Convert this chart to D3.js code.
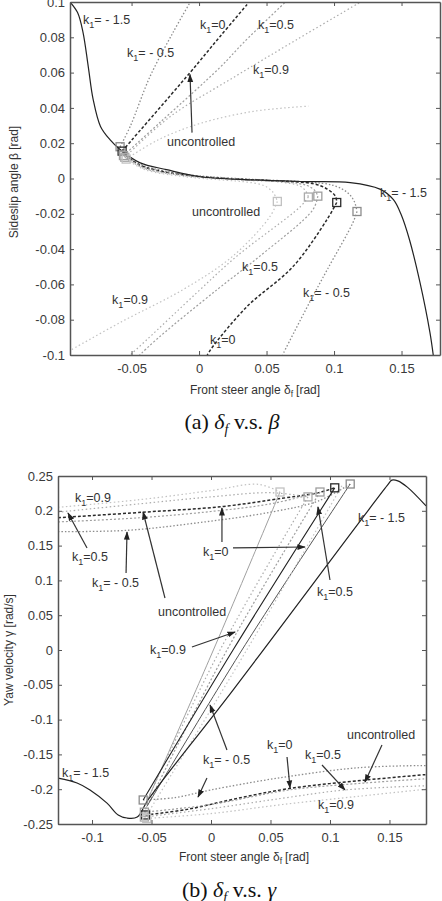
<!DOCTYPE html>
<html>
<head>
<meta charset="utf-8">
<script src="https://cdn.jsdelivr.net/npm/d3@7"></script>
<style>
  body { margin: 0; background: #fff; }
  svg { display: block; font-family: "Liberation Sans", Arial, sans-serif; }
</style>
</head>
<body>
<svg id="chart" width="442" height="901"></svg>
<script>
// ---------- data: plot (a) delta_f vs beta ----------
var seriesNames = ['k=-0.5', 'uncontrolled', 'k=0', 'k=0.5', 'k=0.9'];

var aXTicks = [-0.05, 0, 0.05, 0.1, 0.15];
var aYTicks = [-0.1, -0.08, -0.06, -0.04, -0.02, 0, 0.02, 0.04, 0.06, 0.08, 0.1];

var aK15 = [[-0.0956, 0.1], [-0.090, 0.094], [-0.086, 0.083], [-0.082, 0.063], [-0.0785, 0.045],
  [-0.073, 0.0295], [-0.066, 0.022], [-0.0585, 0.0164], [-0.044, 0.009], [-0.024, 0.005],
  [0.001, 0.001], [0.04, -0.0008], [0.075, -0.0017], [0.112, -0.0023], [0.134, -0.006],
  [0.144, -0.012], [0.150, -0.021], [0.156, -0.035], [0.1637, -0.059], [0.171, -0.087], [0.1735, -0.1]];

// branch from left square up to the border
var aUp = [
  [[-0.0585, 0.018], [-0.051, 0.0295], [-0.0363, 0.0578], [-0.0193, 0.0827], [-0.0067, 0.0997]],
  [[-0.057, 0.0155], [-0.0067, 0.060], [0.0156, 0.0805], [0.0356, 0.0986]],
  [[-0.056, 0.013], [-0.029, 0.0317], [0.0156, 0.063], [0.033, 0.077], [0.064, 0.1]],
  [[-0.055, 0.012], [-0.0215, 0.035], [0.025, 0.057], [0.0726, 0.0788], [0.119, 0.0997]],
  [[-0.054, 0.011], [-0.03, 0.022], [0.0, 0.031], [0.04, 0.038], [0.081, 0.041]]
];
// slow part from left square to right square
var aMid = [
  [[-0.0585, 0.018], [-0.05, 0.011], [-0.04, 0.007], [-0.02, 0.0035], [0.0, 0.0015], [0.04, -0.0005],
   [0.08, -0.002], [0.1, -0.004], [0.11, -0.008], [0.115, -0.013], [0.117, -0.0187]],
  [[-0.057, 0.0155], [-0.045, 0.008], [-0.02, 0.003], [0.02, 0.0], [0.06, -0.0015], [0.085, -0.003],
   [0.095, -0.006], [0.101, -0.010], [0.102, -0.0136]],
  [[-0.056, 0.013], [-0.04, 0.006], [-0.01, 0.002], [0.03, -0.0005], [0.065, -0.002], [0.08, -0.004],
   [0.086, -0.007], [0.088, -0.010]],
  [[-0.055, 0.012], [-0.04, 0.0055], [-0.01, 0.0015], [0.03, -0.0008], [0.06, -0.002], [0.074, -0.004],
   [0.079, -0.007], [0.081, -0.0105]],
  [[-0.054, 0.011], [-0.04, 0.005], [-0.01, 0.001], [0.02, -0.001], [0.035, -0.002], [0.048, -0.004],
   [0.055, -0.008], [0.058, -0.013]]
];
// branch from right square down to the border
var aDown = [
  [[0.117, -0.0187], [0.114, -0.025], [0.095, -0.0516], [0.082, -0.070], [0.062, -0.0997]],
  [[0.102, -0.0136], [0.095, -0.023], [0.0696, -0.0499], [0.0356, -0.0725], [0.0104, -0.095], [0.006, -0.1]],
  [[0.088, -0.010], [0.0844, -0.0176], [0.045, -0.044], [0.0133, -0.063], [-0.029, -0.0895], [-0.044, -0.1]],
  [[0.081, -0.0105], [0.075, -0.016], [0.028, -0.044], [-0.0015, -0.0646], [-0.0385, -0.0912], [-0.051, -0.1]],
  [[0.058, -0.013], [0.0526, -0.0215], [0.025, -0.044], [-0.012, -0.063], [-0.0585, -0.0816], [-0.0956, -0.0975]]
];

var aLabels = [
  ['k1= - 1.5', -0.0859, 0.0901], ['k1= - 0.5', -0.0533, 0.0714], ['k1=0', 0.0007, 0.0873],
  ['k1=0.5', 0.0437, 0.0873], ['k1=0.9', 0.040, 0.0618], ['uncontrolled', -0.0237, 0.021],
  ['k1= - 1.5', 0.134, -0.0079], ['uncontrolled', -0.0052, -0.0187], ['k1=0.5', 0.0319, -0.0499],
  ['k1= - 0.5', 0.077, -0.0646], ['k1=0.9', -0.0644, -0.0686], ['k1=0', 0.0081, -0.0912]
];
var aArrows = [[[-0.0052, 0.026], [-0.0067, 0.0589]]];

// ---------- data: plot (b) delta_f vs gamma ----------
var bXTicks = [-0.1, -0.05, 0, 0.05, 0.1, 0.15];
var bYTicks = [-0.25, -0.2, -0.15, -0.1, -0.05, 0, 0.05, 0.1, 0.15, 0.2, 0.25];

var bK15 = [[-0.1286, -0.184], [-0.1126, -0.191], [-0.1017, -0.201], [-0.0874, -0.22], [-0.078, -0.237],
  [-0.0706, -0.2414], [-0.062, -0.24], [-0.053, -0.2155], [0.0185, -0.0575], [0.148, 0.236],
  [0.152, 0.244], [0.157, 0.243], [0.165, 0.234], [0.1807, 0.207]];

var bUp = [
  [[-0.1286, 0.17], [-0.07, 0.172], [-0.01, 0.183], [0.05, 0.198], [0.09, 0.214], [0.117, 0.2385]],
  [[-0.1286, 0.19], [-0.057, 0.198], [0.009, 0.206], [0.06, 0.218], [0.09, 0.226], [0.104, 0.233]],
  [[-0.1286, 0.184], [-0.06, 0.19], [0.0, 0.199], [0.05, 0.21], [0.0916, 0.227]],
  [[-0.1286, 0.198], [-0.06, 0.21], [0.0, 0.22], [0.05, 0.226], [0.0815, 0.22]],
  [[-0.1286, 0.205], [-0.06, 0.216], [0.0, 0.229], [0.04, 0.238], [0.058, 0.227]]
];
var bDown = [
  [[-0.057, -0.2155], [-0.03, -0.212], [0.0, -0.201], [0.06, -0.183], [0.125, -0.169], [0.1807, -0.166]],
  [[-0.055, -0.237], [-0.02, -0.229], [0.02, -0.214], [0.066, -0.199], [0.129, -0.187], [0.1807, -0.179]],
  [[-0.056, -0.233], [0.0, -0.222], [0.066, -0.201], [0.13, -0.191], [0.1807, -0.185]],
  [[-0.056, -0.24], [0.0, -0.228], [0.06, -0.213], [0.113, -0.201], [0.1807, -0.195]],
  [[-0.054, -0.242], [0.0, -0.235], [0.06, -0.222], [0.125, -0.21], [0.1807, -0.2]]
];
// fan of nearly straight trajectories between the square clusters
var bFan = [
  [[0.058, 0.227], [0.002, 0.0], [-0.055, -0.222]],
  [[0.0815, 0.22], [0.0076, 0.0], [-0.057, -0.228]],
  [[0.0916, 0.227], [0.0134, 0.0], [-0.056, -0.232]],
  [[0.104, 0.233], [0.0185, 0.0], [-0.057, -0.2155]],
  [[0.117, 0.2385], [0.026, 0.0], [-0.054, -0.225]],
  [[0.110, 0.236], [0.030, 0.0], [-0.054, -0.237]]
];
var bFanStyle = ['light', 'k=0.5', 'k=0', 'dark', 'gray', 'k=0.9'];

var bLabels = [
  ['k1=0.9', -0.1143, 0.2184], ['k1=0.5', -0.1168, 0.1336], ['k1= - 0.5', -0.1, 0.0963],
  ['uncontrolled', -0.0445, 0.0546], ['k1=0.9', -0.0513, 0.0], ['k1=0', -0.0067, 0.1408],
  ['k1=0.5', 0.0891, 0.0833], ['k1= - 1.5', 0.1235, 0.1897], ['k1= - 1.5', -0.1252, -0.1767],
  ['k1= - 0.5', -0.0067, -0.158], ['k1=0', 0.047, -0.1365], ['k1=0.5', 0.079, -0.1509],
  ['uncontrolled', 0.1143, -0.1221], ['k1=0.9', 0.0899, -0.2227]
];
var bArrows = [
  [[-0.1042, 0.1466], [-0.1202, 0.1968]], [[-0.0714, 0.1106], [-0.0706, 0.1695]],
  [[-0.0387, 0.0747], [-0.0571, 0.1983]], [[-0.016, 0.0043], [0.0202, 0.0259]],
  [[0.0185, 0.1466], [0.079, 0.148]], [[0.0092, 0.1552], [0.0092, 0.204]],
  [[0.1, 0.1006], [0.0899, 0.2055]], [[0.0134, -0.1437], [-0.0008, -0.079]],
  [[-0.0034, -0.1839], [-0.0109, -0.2112]], [[0.0639, -0.1537], [0.0664, -0.1983]],
  [[0.0933, -0.1652], [0.1126, -0.2011]], [[0.1437, -0.1365], [0.1294, -0.1897]]
];

// ---------- styles ----------
var styles = {
  'k=-1.5': {c: '#222', d: null, w: 1.2},
  'k=-0.5': {c: '#8c8c8c', d: '1.5,2', w: 1.3},
  'uncontrolled': {c: '#2a2a2a', d: '3,2', w: 1.5},
  'k=0': {c: '#9e9e9e', d: '2,2', w: 1.2},
  'k=0.5': {c: '#ababab', d: '1.5,2.5', w: 1.2},
  'k=0.9': {c: '#c2c2c2', d: '1.5,2.5', w: 1.2},
  'light': {c: '#a0a0a0', d: null, w: 1},
  'dark': {c: '#222', d: null, w: 1.1},
  'gray': {c: '#555', d: null, w: 1}
};

var svg = d3.select('#chart');
svg.append('defs').append('marker')
  .attr('id', 'arrow').attr('viewBox', '0 0 10 10')
  .attr('refX', 9).attr('refY', 5)
  .attr('markerWidth', 7).attr('markerHeight', 7)
  .attr('orient', 'auto-start-reverse')
  .append('path').attr('d', 'M0,1.5 L10,5 L0,8.5 Z').attr('fill', '#222');

function drawLabel(g, lab, x, y) {
  var t = g.append('text')
    .attr('x', x(lab[1])).attr('y', y(lab[2]))
    .attr('dy', '0.35em')
    .attr('font-size', 12.5).attr('fill', '#333');
  if (lab[0].indexOf('k1') === 0) {
    t.append('tspan').text('k');
    t.append('tspan').attr('font-size', 9).attr('dy', 4).text('1');
    t.append('tspan').attr('dy', -4).text(lab[0].slice(2));
  } else {
    t.text(lab[0]);
  }
}

function panel(opt) {
  var x = d3.scaleLinear().domain(opt.xd).range(opt.xr);
  var y = d3.scaleLinear().domain(opt.yd).range(opt.yr);
  var g = svg.append('g');
  var line = d3.line()
    .x(function (d) { return x(d[0]); })
    .y(function (d) { return y(d[1]); })
    .curve(d3.curveCatmullRom.alpha(0.5));

  var clipId = 'clip' + opt.id;
  svg.select('defs').append('clipPath').attr('id', clipId)
    .append('rect').attr('x', opt.xr[0]).attr('y', opt.yr[1])
    .attr('width', opt.xr[1] - opt.xr[0]).attr('height', opt.yr[0] - opt.yr[1]);
  var plot = g.append('g').attr('clip-path', 'url(#' + clipId + ')');

  function path(pts, key) {
    var s = styles[key];
    plot.append('path').attr('d', line(pts))
      .attr('fill', 'none').attr('stroke', s.c)
      .attr('stroke-width', s.w)
      .attr('stroke-dasharray', s.d);
  }
  opt.draw(path);
  path(opt.k15, 'k=-1.5');

  // squares
  opt.squares.forEach(function (sq) {
    plot.append('rect')
      .attr('x', x(sq[0]) - 4).attr('y', y(sq[1]) - 4)
      .attr('width', 8).attr('height', 8)
      .attr('fill', 'none').attr('stroke', styles[sq[2]].c).attr('stroke-width', 1.3);
  });

  // axes, MATLAB style box with inward ticks
  var fmt = function (d) { return String(d); };
  g.append('g').attr('transform', 'translate(0,' + opt.yr[0] + ')')
    .call(d3.axisBottom(x).tickValues(opt.xt).tickSize(-4).tickSizeOuter(0).tickPadding(9).tickFormat(fmt));
  g.append('g').attr('transform', 'translate(0,' + opt.yr[1] + ')')
    .call(d3.axisTop(x).tickValues(opt.xt).tickSize(-4).tickSizeOuter(0).tickFormat(''));
  g.append('g').attr('transform', 'translate(' + opt.xr[0] + ',0)')
    .call(d3.axisLeft(y).tickValues(opt.yt).tickSize(-4).tickSizeOuter(0).tickPadding(5).tickFormat(fmt));
  g.append('g').attr('transform', 'translate(' + opt.xr[1] + ',0)')
    .call(d3.axisRight(y).tickValues(opt.yt).tickSize(-4).tickSizeOuter(0).tickFormat(''));
  g.selectAll('.domain').attr('stroke', '#555').attr('stroke-width', 1.5);
  g.selectAll('.tick line').attr('stroke', '#555');
  g.selectAll('.tick text').attr('font-size', 13).attr('fill', '#3a3a3a')
    .style('font-family', '"Liberation Sans", Arial, sans-serif');

  opt.labels.forEach(function (lab) { drawLabel(g, lab, x, y); });
  opt.arrows.forEach(function (a) {
    g.append('line')
      .attr('x1', x(a[0][0])).attr('y1', y(a[0][1]))
      .attr('x2', x(a[1][0])).attr('y2', y(a[1][1]))
      .attr('stroke', '#333').attr('stroke-width', 1.2)
      .attr('marker-end', 'url(#arrow)');
  });
  return {x: x, y: y};
}

// plot (a)
var sqA = [];
aMid.forEach(function (m, i) {
  sqA.push([m[0][0], m[0][1], seriesNames[i]]);
  sqA.push([m[m.length - 1][0], m[m.length - 1][1], seriesNames[i]]);
});
panel({
  id: 'a', xd: [-0.0956, 0.1785], xr: [70, 440], yd: [-0.1, 0.1], yr: [355, 2],
  xt: aXTicks, yt: aYTicks, k15: aK15, labels: aLabels, arrows: aArrows, squares: sqA,
  draw: function (path) {
    seriesNames.forEach(function (n, i) {
      path(aUp[i], n);
      path(aMid[i], n);
      path(aDown[i], n);
    });
  }
});

// plot (b)
var sqB = [];
seriesNames.forEach(function (n, i) {
  sqB.push([bUp[i][bUp[i].length - 1][0], bUp[i][bUp[i].length - 1][1], n]);
  sqB.push([bDown[i][0][0], bDown[i][0][1], n]);
});
panel({
  id: 'b', xd: [-0.1286, 0.1807], xr: [58, 426], yd: [-0.25, 0.25], yr: [824, 476],
  xt: bXTicks, yt: bYTicks, k15: bK15, labels: bLabels, arrows: bArrows, squares: sqB,
  draw: function (path) {
    seriesNames.forEach(function (n, i) {
      path(bUp[i], n);
      path(bDown[i], n);
    });
    bFan.forEach(function (f, i) { path(f, bFanStyle[i]); });
  }
});

// axis titles: before-sub text, subscript, after-sub text
function axisTitle(x, y, rot, pre, sub, post) {
  var t = svg.append('text')
    .attr('transform', 'translate(' + x + ',' + y + ')' + (rot ? ' rotate(-90)' : ''))
    .attr('text-anchor', 'middle').attr('font-size', 12).attr('fill', '#333');
  t.append('tspan').text(pre);
  if (sub) {
    t.append('tspan').attr('font-size', 8.5).attr('dy', 3).text(sub);
    t.append('tspan').attr('dy', -3).attr('dx', 3).text(post);
  }
}
axisTitle(255, 394, false, 'Front steer angle δ', 'f', '[rad]');
axisTitle(18, 182, true, 'Sideslip angle β [rad]');
axisTitle(244, 861, false, 'Front steer angle δ', 'f', '[rad]');
axisTitle(13, 650, true, 'Yaw velocity γ [rad/s]');

// captions
function caption(cx, cy, letter, sym) {
  var t = svg.append('text').attr('x', cx).attr('y', cy).attr('text-anchor', 'middle')
    .style('font-family', '"Liberation Serif", "Times New Roman", serif')
    .attr('font-size', 22).attr('fill', '#111');
  t.append('tspan').text('(' + letter + ') ');
  t.append('tspan').style('font-style', 'italic').text('δ');
  t.append('tspan').style('font-style', 'italic').attr('font-size', 14).attr('dy', 5).text('f');
  t.append('tspan').attr('dy', -5).text(' v.s. ');
  t.append('tspan').style('font-style', 'italic').text(sym);
}
caption(232, 429, 'a', 'β');
caption(229, 897, 'b', 'γ');
</script>
</body>
</html>
